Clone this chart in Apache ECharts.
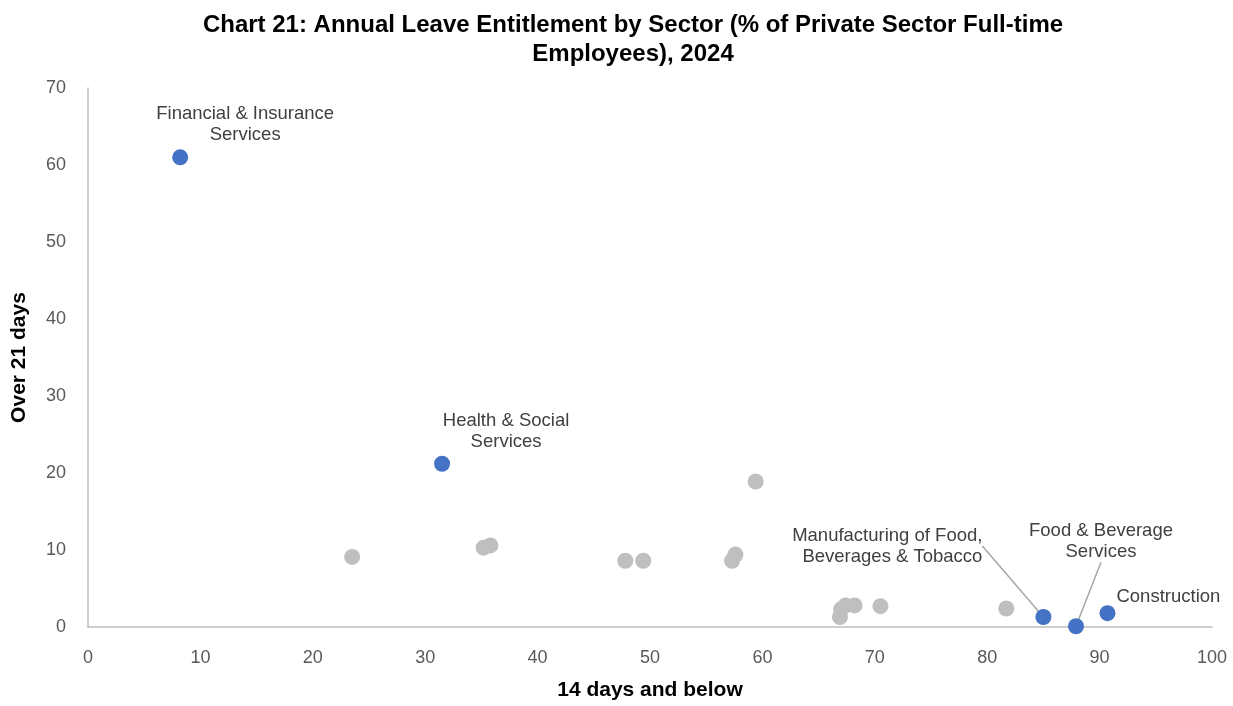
<!DOCTYPE html>
<html><head><meta charset="utf-8">
<script src="https://cdn.jsdelivr.net/npm/echarts@6/dist/echarts.min.js"></script>
<style>html,body{margin:0;padding:0;background:#fff;overflow:hidden}#c{width:1233px;height:706px}</style>
</head><body><div id="c"></div>
<script>
// Grey (unlabelled) sectors
const greyX = [23.5, 35.2, 35.8, 47.8, 49.4, 57.3, 57.6, 59.4, 66.9, 67.0, 67.4, 68.2, 70.5, 81.7];
const greyY = [9.1, 10.3, 10.6, 8.6, 8.6, 8.6, 9.4, 18.9, 1.3, 2.3, 2.8, 2.8, 2.7, 2.4];
// Highlighted sectors
const hlNames = ['Financial & Insurance\nServices', 'Health & Social\nServices', 'Manufacturing of Food,\nBeverages & Tobacco', 'Food & Beverage\nServices', 'Construction'];
const hlX = [8.2, 31.5, 85.0, 87.9, 90.7];
const hlY = [61.0, 21.2, 1.3, 0.1, 1.8];
const xTicks = [0, 100, 10];
const yTicks = [0, 70, 10];

const labelCfg = [
  {label: {position: 'top', align: 'center'}, labelLine: {show: false}},
  {label: {position: 'top', align: 'center'}, labelLine: {show: false}},
  {label: {position: 'left', align: 'right'}, labelLine: {show: true}},
  {label: {position: 'top', align: 'center'}, labelLine: {show: true}},
  {label: {position: 'right', align: 'left'}, labelLine: {show: false}}
];
const moves = [{dx: 65, dy: 1}, {dx: 64, dy: 2}, {dx: -48, dy: -71}, {dx: 25, dy: -51}, {dx: -4, dy: -16}];

const hlData = hlX.map((x, i) => Object.assign({name: hlNames[i], value: [x, hlY[i]]}, labelCfg[i]));
const greyData = greyX.map((x, i) => [x, greyY[i]]);

const font = 'Arial, "Liberation Sans", sans-serif';
const el = document.getElementById('c');
const chart = echarts.init(el);
chart.setOption({
  animation: false,
  title: {
    text: 'Chart 21: Annual Leave Entitlement by Sector (% of Private Sector Full-time\nEmployees), 2024',
    left: 628, top: 6, textAlign: 'center',
    textStyle: {fontFamily: font, fontSize: 24, fontWeight: 'bold', color: '#000', lineHeight: 29}
  },
  grid: {left: 88, right: 21, top: 88, bottom: 74},
  xAxis: {
    type: 'value', min: xTicks[0], max: xTicks[1], interval: xTicks[2],
    name: '14 days and below', nameLocation: 'middle', nameGap: 53,
    nameTextStyle: {fontFamily: font, fontSize: 21, fontWeight: 'bold', color: '#000'},
    axisLine: {show: true, lineStyle: {color: '#bfbfbf', width: 1.5}},
    axisTick: {show: false}, splitLine: {show: false},
    axisLabel: {fontFamily: font, fontSize: 18, color: '#595959', margin: 22}
  },
  yAxis: {
    type: 'value', min: yTicks[0], max: yTicks[1], interval: yTicks[2],
    name: 'Over 21 days', nameLocation: 'middle', nameGap: 58, nameRotate: 90,
    nameTextStyle: {fontFamily: font, fontSize: 21, fontWeight: 'bold', color: '#000'},
    axisLine: {show: true, lineStyle: {color: '#bfbfbf', width: 1.5}},
    axisTick: {show: false}, splitLine: {show: false},
    axisLabel: {fontFamily: font, fontSize: 18, color: '#595959', margin: 22}
  },
  series: [
    {type: 'scatter', symbolSize: 16, itemStyle: {color: '#bfbfbf', opacity: 1}, data: greyData, z: 2},
    {type: 'scatter', symbolSize: 16, itemStyle: {color: '#4472c4', opacity: 1}, data: hlData, z: 3,
     label: {show: true, formatter: '{b}', fontFamily: font, fontSize: 18.5, color: '#404040', lineHeight: 21},
     labelLine: {lineStyle: {color: '#a6a6a6', width: 1.5}},
     labelLayout: function (p) { return moves[p.dataIndex]; }}
  ]
});
</script></body></html>
